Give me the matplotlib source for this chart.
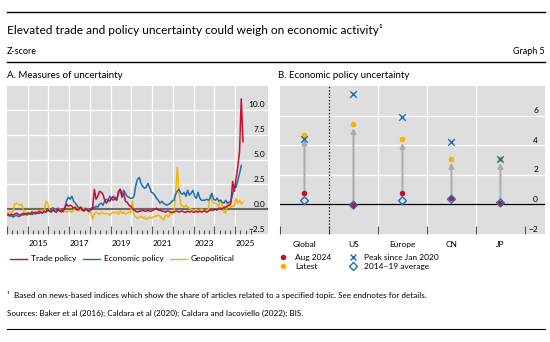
import numpy as np
import matplotlib
matplotlib.use("Agg")
import matplotlib.pyplot as plt
from matplotlib.lines import Line2D

plt.rcParams['font.family'] = ['Lato', 'DejaVu Sans']

W, H = 550, 342

# monthly z-scores, Jan 2014 onwards
trade_policy = [
    -0.5, -0.6, -0.5, -0.6, -0.5, -0.4, -0.5, -0.6, -0.5, -0.4, -0.5, -0.45,
    -0.4, -0.5, -0.3, -0.4, -0.3, -0.4, -0.2, -0.3, -0.4, -0.2, -0.3, -0.1,
    -0.2, -0.3, -0.1, -0.2, -0.3, 0.0, -0.2, -0.1, -0.2, 0.1, 0.5, 0.3,
    0.4, 0.3, 0.1, 0.2, -0.1, 0.0, 0.2, -0.1, -0.2, 0.0, -0.1, -0.2,
    -0.1, 0.1, 2.0, 1.0, 1.3, 1.8, 1.7, 1.5, 0.9, 0.6, 0.9, 0.8,
    1.1, 1.3, 1.0, 0.9, 1.8, 2.0, 1.2, 1.6, 0.8, 0.7, 0.4, 0.3,
    0.1, -0.1, -0.2, -0.3, -0.2, -0.2, -0.1, -0.2, -0.2, -0.1, -0.2, -0.2,
    -0.1, 0.0, 0.1, -0.1, -0.1, -0.2, -0.2, -0.3, -0.2, -0.2, -0.3, -0.3,
    -0.3, -0.2, -0.2, -0.3, -0.2, -0.2, -0.3, -0.3, -0.2, -0.3, -0.2, -0.3,
    -0.3, -0.2, -0.3, -0.2, -0.3, -0.2, -0.2, -0.3, -0.2, -0.1, -0.1, -0.1,
    0.0, -0.1, 0.1, 0.1, 0.0, 0.2, 0.2, 0.3, 0.4, 0.6, 2.8, 1.8,
    3.1, 4.3, 5.8, 11.1, 6.8,
]
economic_policy = [
    -0.6, -0.7, -0.65, -0.8, -0.7, -0.6, -0.75, -0.7, -0.55, -0.6, -0.5, -0.6,
    -0.5, -0.45, -0.55, -0.4, -0.5, -0.35, -0.45, -0.3, -0.4, -0.2, -0.3, 0.0,
    -0.2, -0.1, 0.15, -0.2, -0.3, 0.1, -0.2, -0.3, -0.1, 0.2, 0.9, 1.2,
    1.0, 1.3, 0.8, 0.6, 0.4, 0.1, 0.2, 0.0, -0.1, 0.1, -0.1, -0.2,
    0.0, 0.2, 0.1, 0.3, 0.2, 0.5, 0.6, 0.4, 0.8, 1.0, 0.9, 1.3,
    1.0, 0.9, 1.2, 1.0, 1.6, 2.0, 1.5, 1.9, 1.6, 1.3, 1.2, 1.1,
    1.1, 1.3, 2.4, 3.0, 3.2, 2.6, 2.3, 2.1, 2.2, 2.6, 2.2, 1.7,
    1.6, 1.4, 1.1, 0.9, 0.6, 0.8, 0.6, 0.5, 0.4, 0.5, 0.6, 0.8,
    0.9, 1.5, 1.8, 2.0, 1.6, 1.5, 1.7, 1.3, 1.9, 1.4, 1.6, 1.9,
    1.3, 1.1, 1.7, 1.1, 0.9, 0.9, 0.9, 1.0, 0.9, 1.1, 1.6, 1.0,
    0.9, 1.1, 0.8, 0.9, 0.7, 0.6, 0.9, 0.6, 0.7, 0.8, 1.5, 2.3,
    2.2, 2.9, 3.6, 4.4,
]
geopolitical = [
    -0.4, -0.3, -0.3, -0.2, 0.5, 0.6, 0.5, 0.4, 0.5, -0.1, -0.3, -0.4,
    -0.3, -0.4, -0.2, -0.3, -0.4, -0.3, -0.4, -0.2, -0.1, -0.2, 0.8, 0.6,
    -0.1, -0.2, 0.1, -0.1, -0.2, -0.1, 0.0, -0.2, -0.3, -0.2, -0.3, -0.2,
    -0.2, -0.3, -0.1, 0.3, 0.0, -0.2, -0.1, 0.2, 0.1, -0.1, -0.2, -0.3,
    -0.4, -1.0, -0.5, -0.3, -0.4, -0.5, -0.3, -0.4, -0.5, -0.4, -0.5, -0.6,
    -0.4, -0.3, -0.4, -0.3, -0.5, -0.2, -0.4, -0.3, -0.5, -0.4, -0.3, -0.4,
    0.9, -0.6, -0.8, -0.9, -0.8, -0.7, -0.9, -0.8, -1.0, -0.9, -0.8, -0.9,
    -0.8, -0.7, -0.7, -0.6, -0.7, -0.9, -1.1, -0.7, -0.6, -0.8, -0.4, -0.5,
    -0.3, 1.5, 4.2, 1.6, 0.5, 0.3, 0.2, 0.4, 0.2, 0.1, 0.0, -0.1,
    -0.1, 0.0, -0.2, -0.1, 0.0, -0.1, -0.2, -0.1, 0.0, 1.5, 0.9, 0.6,
    0.6, 0.5, 0.3, 0.9, 0.4, -0.3, -0.4, 0.5, 0.6, 0.2, 0.3, 0.3,
    1.1, 0.6, 0.9, 0.5, 0.7,
]

regions = ['Global', 'US', 'Europe', 'CN', 'JP']
aug_2024 = [0.8, -0.05, 0.8, 0.45, 0.1]
latest = [4.7, 5.45, 4.45, 3.1, 3.1]
peak_since_2020 = [4.45, 7.45, 5.9, 4.25, 3.1]
avg_2014_19 = [0.25, -0.05, 0.25, 0.35, 0.1]

RED = '#c8102e'
BLUE = '#1f6db5'
YELLOW = '#f5b400'
BG = '#dedede'
TICK = '#555555'


def months(n):
    # mid-month positions in decimal years
    return 2014 + (np.arange(n) + 0.5) / 12


def fx(px):
    return px / W


def fy(py):
    return 1 - py / H


fig = plt.figure(figsize=(W / 100, H / 100), dpi=100)

# header / footer rules
for y0, x1, lw in [(12, 545, 1.0), (62, 545, 1.0), (329, 545, 0.8)]:
    fig.add_artist(Line2D([fx(7), fx(x1)], [fy(y0), fy(y0)], color='black', lw=lw))

fig.text(fx(7), fy(30), 'Elevated trade and policy uncertainty could weigh on economic activity¹',
         fontsize=8.6, va='center', ha='left')
fig.text(fx(7), fy(52), 'Z-score', fontsize=6.5, va='center', ha='left')
fig.text(fx(545), fy(52), 'Graph 5', fontsize=6.5, va='center', ha='right')
fig.text(fx(7), fy(76), 'A. Measures of uncertainty', fontsize=7, va='center', ha='left')
fig.text(fx(278), fy(76), 'B. Economic policy uncertainty', fontsize=7, va='center', ha='left')
fig.text(fx(7), fy(295), '¹  Based on news-based indices which show the share of articles related to a specified topic. See endnotes for details.',
         fontsize=5.9, va='center', ha='left')
fig.text(fx(7), fy(313), 'Sources: Baker et al (2016); Caldara et al (2020); Caldara and Iacoviello (2022); BIS.',
         fontsize=5.9, va='center', ha='left')

# ---------------- panel A ----------------
axA = fig.add_axes([fx(7), fy(234), fx(268) - fx(7), fy(86) - fy(234)])
axA.set_facecolor(BG)
for s in axA.spines.values():
    s.set_visible(False)
axA.set_xlim(2014, 2026.58)
axA.set_ylim(-2.5, 12.4)

for yr in range(2015, 2026):
    axA.axvline(yr, color='white', lw=0.9, zorder=1)
for v in [2.5, 5, 7.5, 10]:
    axA.axhline(v, color='white', lw=0.9, zorder=1)
axA.axhline(0, color='#6a6a6a', lw=1.5, zorder=2)

axA.plot(months(len(geopolitical)), geopolitical, color=YELLOW, lw=1.1, zorder=3)
axA.plot(months(len(economic_policy)), economic_policy, color=BLUE, lw=1.1, zorder=4)
axA.plot(months(len(trade_policy)), trade_policy, color=RED, lw=1.1, zorder=5)

axA.set_xticks(range(2014, 2026))
axA.set_xticklabels([])
quarters = [y + q for y in range(2014, 2026) for q in (0.25, 0.5, 0.75)]
axA.set_xticks(quarters, minor=True)
axA.set_xticklabels([str(int(q)) if (q % 1 == 0.5 and int(q) % 2 == 1) else '' for q in quarters],
                    minor=True)
axA.tick_params(axis='x', which='major', direction='in', length=6, width=0.8, color=TICK)
axA.tick_params(axis='x', which='minor', direction='in', length=3, width=0.8, color=TICK,
                labelsize=6, pad=4)
axA.set_yticks([])
for v in [-2.5, 0, 2.5, 5, 7.5, 10]:
    axA.annotate(f'{v:.1f}'.replace('-', '−'), xy=(1, v), xycoords=('axes fraction', 'data'),
                 xytext=(-2, 3.5), textcoords='offset points', ha='right', va='center', fontsize=6)

legA = [Line2D([], [], color=RED, lw=1.0), Line2D([], [], color=BLUE, lw=1.0),
        Line2D([], [], color=YELLOW, lw=1.0)]
fig.legend(legA, ['Trade policy', 'Economic policy', 'Geopolitical'], loc='center left',
           bbox_to_anchor=(fx(10), fy(259)), ncol=3, frameon=False, fontsize=6,
           borderpad=0, borderaxespad=0, handlelength=2.0, handletextpad=0.5, columnspacing=0.8)

# ---------------- panel B ----------------
axB = fig.add_axes([fx(280), fy(234), fx(545) - fx(280), fy(86) - fy(234)])
axB.set_facecolor(BG)
for s in axB.spines.values():
    s.set_visible(False)
xpos = np.arange(len(regions))
axB.set_xlim(-0.5, 4.91)
axB.set_ylim(-2, 8)

for v in [1.5, 2.5, 3.5]:
    axB.axvline(v, color='white', lw=0.9, zorder=1)
for v in [2, 4, 6]:
    axB.axhline(v, color='white', lw=0.9, zorder=1)
axB.axhline(0, color='black', lw=0.9, zorder=2)
axB.axvline(0.5, color='black', lw=0.9, ls=(0, (1, 1.6)), zorder=2)

for i in xpos:
    axB.annotate('', xy=(i, latest[i] - 0.3), xytext=(i, aug_2024[i]),
                 arrowprops=dict(arrowstyle='-|>', color='#ababab', lw=1.4,
                                 mutation_scale=7, shrinkA=0, shrinkB=0), zorder=3)

axB.scatter(xpos, aug_2024, s=16, color=RED, zorder=5, linewidths=0)
axB.scatter(xpos, latest, s=16, color=YELLOW, zorder=5, linewidths=0)
axB.scatter(xpos, peak_since_2020, s=22, marker='x', color=BLUE, linewidths=1.0, zorder=6)
axB.scatter(xpos, avg_2014_19, s=16, marker='D', facecolors='none', edgecolors=BLUE,
            linewidths=1.0, zorder=6)

axB.set_xticks(xpos)
axB.set_xticklabels(regions)
axB.set_xticks([-0.5, 0.5, 1.5, 2.5, 3.5, 4.5], minor=True)
axB.tick_params(axis='x', which='major', length=0, labelsize=6, pad=5)
axB.tick_params(axis='x', which='minor', direction='in', length=6, width=0.8, color=TICK)
axB.set_yticks([])
for v in [-2, 0, 2, 4, 6]:
    axB.annotate(f'{v}'.replace('-', '−'), xy=(1, v), xycoords=('axes fraction', 'data'),
                 xytext=(-5, 3.5), textcoords='offset points', ha='right', va='center', fontsize=6)

legB = [Line2D([], [], ls='', marker='o', ms=4, color=RED, mew=0),
        Line2D([], [], ls='', marker='o', ms=4, color=YELLOW, mew=0),
        Line2D([], [], ls='', marker='x', ms=5, color=BLUE, mew=1.0),
        Line2D([], [], ls='', marker='D', ms=4, mfc='none', mec=BLUE, mew=1.0)]
fig.legend(legB, ['Aug 2024', 'Latest', 'Peak since Jan 2020', '2014–19 average'],
           loc='upper left', bbox_to_anchor=(fx(279), fy(254)), ncol=2, frameon=False, fontsize=6,
           borderpad=0, borderaxespad=0, handlelength=1.0, handletextpad=0.9,
           columnspacing=2.1, labelspacing=0.25)

fig.savefig('out.png', dpi=100)
